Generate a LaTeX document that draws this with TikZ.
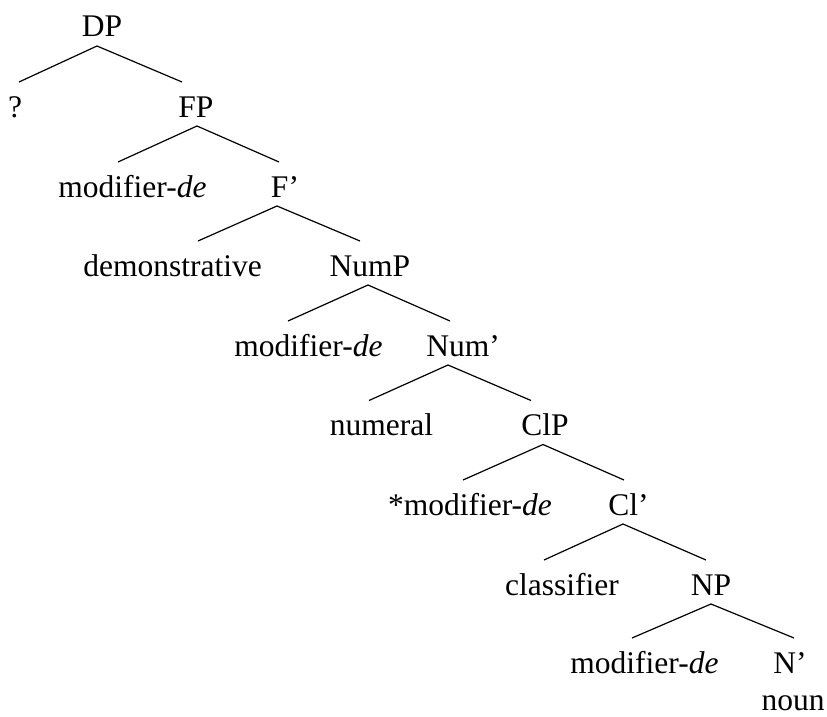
\documentclass[tikz,border=0pt]{standalone}
\usepackage{fontspec}
\setmainfont{Liberation Serif}
\begin{document}
\begin{tikzpicture}[
        x=1pt, y=1pt,
        every node/.style={font=\fontsize{31.5}{38}\selectfont},
        cat/.style={anchor=base, inner sep=0pt, outer sep=0pt, text height=35pt, text depth=9pt},
        branch/.style={line width=1.2pt}
    ]
    \useasboundingbox (0,0) rectangle (827,-717);

    % Nodes, one row per level
    \node[cat] (dp) at (102,-37) {DP};

    \node[cat] (q) at (15,-117) {?};
    \node[cat] (fp) at (196,-117) {FP};

    \node[cat] (mod_a) at (132.5,-197) {modifier-\textit{de}};
    \node[cat] (fbar) at (285,-197) {F’};

    \node[cat] (dem) at (172.5,-276) {demonstrative};
    \node[cat] (nump) at (370,-276) {NumP};

    \node[cat] (mod_b) at (308.5,-356) {modifier-\textit{de}};
    \node[cat] (numbar) at (463,-356) {Num’};

    \node[cat] (numeral) at (381.5,-435.5) {numeral};
    \node[cat] (clp) at (545,-435.5) {ClP};

    \node[cat] (mod_c) at (470,-515) {*modifier-\textit{de}};
    \node[cat] (clbar) at (628.5,-515) {Cl’};

    \node[cat] (clf) at (562,-595) {classifier};
    \node[cat] (np) at (711,-595) {NP};

    \node[cat] (mod_d) at (644.5,-673) {modifier-\textit{de}};
    \node[cat] (nbar) at (790,-673) {N’};
    \node[anchor=base, inner sep=0pt] (noun) at (793,-710) {noun};

    % === BRANCHES ===

    % DP
    \draw[branch] ([xshift=-5pt]dp.south) -- ([xshift=4pt]q.north);
    \draw[branch] ([xshift=-5pt]dp.south) -- ([xshift=-14pt]fp.north);

    % FP
    \draw[branch] ([xshift=1pt]fp.south) -- ([xshift=-14.5pt]mod_a.north);
    \draw[branch] ([xshift=1pt]fp.south) -- ([xshift=-6pt]fbar.north);

    % F'
    \draw[branch] ([xshift=-8pt]fbar.south) -- ([xshift=25.5pt]dem.north);
    \draw[branch] ([xshift=-8pt]fbar.south) -- ([xshift=-10pt]nump.north);

    % NumP
    \draw[branch] ([xshift=-2pt]nump.south) -- ([xshift=-20.5pt]mod_b.north);
    \draw[branch] ([xshift=-2pt]nump.south) -- ([xshift=-13pt]numbar.north);

    % Num'
    \draw[branch] ([xshift=-15pt]numbar.south) -- ([xshift=-12.5pt]numeral.north);
    \draw[branch] ([xshift=-15pt]numbar.south) -- ([xshift=-14pt]clp.north);

    % ClP
    \draw[branch] ([xshift=-2pt]clp.south) -- ([xshift=-7pt]mod_c.north);
    \draw[branch] ([xshift=-2pt]clp.south) -- ([xshift=-4.5pt]clbar.north);

    % Cl'
    \draw[branch] ([xshift=-5.5pt]clbar.south) -- ([xshift=-18pt]clf.north);
    \draw[branch] ([xshift=-5.5pt]clbar.south) -- ([xshift=-5pt]np.north);

    % NP
    \draw[branch] (np.south) -- ([xshift=-12.5pt]mod_d.north);
    \draw[branch] (np.south) -- ([xshift=4pt]nbar.north);

\end{tikzpicture}
\end{document}
